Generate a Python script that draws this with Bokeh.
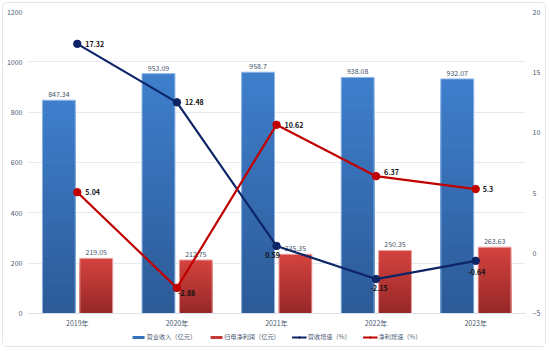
from bokeh.plotting import figure
from bokeh.models import (ColumnDataSource, Range1d, LinearAxis, FactorRange,
                          Legend, LegendItem, FixedTicker)
from bokeh.transform import dodge
from bokeh.core.properties import value
from bokeh.embed import file_html
from bokeh.resources import INLINE

years = ["2019年", "2020年", "2021年", "2022年", "2023年"]
revenue = [847.34, 953.09, 958.7, 938.08, 932.07]
net_profit = [219.05, 212.75, 235.35, 250.35, 263.63]
rev_growth = [17.32, 12.48, 0.59, -2.15, -0.64]
np_growth = [5.04, -2.88, 10.62, 6.37, 5.3]

FONT = "Noto Sans CJK SC"

# page: frame spans 11..347 px; value 0 sits at 313 px, 1200 at 11 px
p = figure(x_range=FactorRange(*years, range_padding=0), y_range=Range1d(-135.1, 1200),
           width=544, height=345, output_backend="svg", toolbar_location=None,
           min_border_left=20, min_border_right=22, min_border_top=8, min_border_bottom=1)
p.styles = {"margin": "2px", "border": "1px solid #dfe6ef", "border-radius": "4px"}
p.extra_y_ranges = {"pct": Range1d(-7.815, 20)}
p.outline_line_color = None
p.background_fill_color = "white"
p.border_fill_color = "white"

# gradient bars: overlapping slices from the baseline, built from each bar's value
N = 30
def hexmix(c1, c2, t):
    a = [int(c1[i:i + 2], 16) for i in (1, 3, 5)]
    b = [int(c2[i:i + 2], 16) for i in (1, 3, 5)]
    return "#%02x%02x%02x" % tuple(int(round(a[k] + (b[k] - a[k]) * t)) for k in range(3))

def gradient_source(vals, c_bottom, c_top):
    xs, tops, cols = [], [], []
    for k in range(N, 0, -1):
        for yr, v in zip(years, vals):
            xs.append(yr)
            tops.append(v * k / N)
            cols.append(hexmix(c_bottom, c_top, (k - 0.5) / N))
    return ColumnDataSource(dict(x=xs, top=tops, color=cols))

BW = 0.33
OFF_B, OFF_R = -0.185, 0.19
src = ColumnDataSource(dict(x=years, revenue=revenue, net_profit=net_profit,
                            rev_growth=rev_growth, np_growth=np_growth,
                            rev_lbl=[str(v) for v in revenue],
                            np_lbl=[str(v) for v in net_profit],
                            rg_lbl=[str(v) for v in rev_growth],
                            ng_lbl=[str(v) for v in np_growth]))

gb = gradient_source(revenue, "#2c5a97", "#3f7fcc")
gr = gradient_source(net_profit, "#962828", "#d4433f")
p.vbar(x=dodge("x", OFF_B, range=p.x_range), top="top", width=BW,
       fill_color="color", line_color=None, source=gb)
p.vbar(x=dodge("x", OFF_R, range=p.x_range), top="top", width=BW,
       fill_color="color", line_color=None, source=gr)
p.vbar(x=dodge("x", OFF_B, range=p.x_range), top="revenue", width=BW,
       fill_color=None, line_color="#8fb6e6", line_width=1, source=src)
p.vbar(x=dodge("x", OFF_R, range=p.x_range), top="net_profit", width=BW,
       fill_color=None, line_color="#eda5a2", line_width=1, source=src)

# legend swatches (solid colors, no visible marks in the plot)
lb = p.vbar(x=dodge("x", OFF_B, range=p.x_range), top=0, width=0, fill_color="#3670b8",
            line_color=None, source=src)
lr = p.vbar(x=dodge("x", OFF_R, range=p.x_range), top=0, width=0, fill_color="#c43a36",
            line_color=None, source=src)

# bar value labels
p.text(x=dodge("x", OFF_B, range=p.x_range), y="revenue", text="rev_lbl", source=src,
       text_align="center", text_baseline="bottom", y_offset=-3,
       text_font=value(FONT), text_font_size="7px", text_color="#44546a")
p.text(x=dodge("x", OFF_R, range=p.x_range), y="net_profit", text="np_lbl", source=src,
       text_align="center", text_baseline="bottom", y_offset=-3,
       text_font=value(FONT), text_font_size="7px", text_color="#44546a")

# growth lines
l1 = p.line(x="x", y="rev_growth", source=src, y_range_name="pct", line_color="#0d2466", line_width=2.2)
s1 = p.scatter(x="x", y="rev_growth", source=src, y_range_name="pct", size=7.5,
               fill_color="#0d2466", line_color="#0d2466")
l2 = p.line(x="x", y="np_growth", source=src, y_range_name="pct", line_color="#c00000", line_width=2.2)
s2 = p.scatter(x="x", y="np_growth", source=src, y_range_name="pct", size=7.5,
               fill_color="#c00000", line_color="#c00000")

rg_dx = [8, 8, -4, 3, 1]
rg_dy = [0, 0, 9, 9, 11]
rg_al = ["left", "left", "center", "center", "center"]
ng_dx = [8, 1, 8, 8, 7]
ng_dy = [0, 5, 0, -4, 0]
src.data["rg_dx"] = rg_dx
src.data["rg_dy"] = rg_dy
src.data["rg_al"] = rg_al
src.data["ng_dx"] = ng_dx
src.data["ng_dy"] = ng_dy
p.text(x="x", y="rev_growth", text="rg_lbl", source=src, y_range_name="pct",
       x_offset="rg_dx", y_offset="rg_dy", text_align="rg_al", text_baseline="middle",
       text_font=value(FONT), text_font_size="7px", text_font_style="bold", text_color="#111111")
p.text(x="x", y="np_growth", text="ng_lbl", source=src, y_range_name="pct",
       x_offset="ng_dx", y_offset="ng_dy", text_align="left", text_baseline="middle",
       text_font=value(FONT), text_font_size="7px", text_font_style="bold", text_color="#111111")

# axes
p.yaxis.ticker = FixedTicker(ticks=[0, 200, 400, 600, 800, 1000, 1200])
p.yaxis.axis_line_color = None
p.yaxis.major_tick_line_color = None
p.yaxis.minor_tick_line_color = None
p.yaxis.major_tick_out = 0
p.yaxis.major_tick_in = 0
p.yaxis.major_label_standoff = 5
ax2 = LinearAxis(y_range_name="pct", ticker=FixedTicker(ticks=[-5, 0, 5, 10, 15, 20]))
ax2.axis_line_color = None
ax2.major_tick_line_color = None
ax2.minor_tick_line_color = None
ax2.major_tick_out = 0
ax2.major_tick_in = 0
ax2.major_label_standoff = 7
p.add_layout(ax2, "right")
for ax in (p.yaxis[0], ax2, p.xaxis[0]):
    ax.major_label_text_font = FONT
    ax.major_label_text_font_size = "7px"
    ax.major_label_text_color = "#4a5a72"
p.xaxis.fixed_location = 0
p.xaxis.axis_line_color = "#d9e1ec"
p.xaxis.major_tick_line_color = None
p.xaxis.major_tick_out = 0
p.xaxis.major_tick_in = 0
p.xaxis.major_label_standoff = 5
p.xgrid.grid_line_color = None
p.ygrid.grid_line_color = "#e3eaf3"

legend = Legend(items=[
    LegendItem(label="营业收入（亿元）", renderers=[lb]),
    LegendItem(label="归母净利润（亿元）", renderers=[lr]),
    LegendItem(label="营收增速（%）", renderers=[l1, s1]),
    LegendItem(label="净利增速（%）", renderers=[l2, s2]),
], orientation="horizontal", location="bottom_center")
legend.label_text_font = FONT
legend.label_text_font_size = "6.2px"
legend.label_text_color = "#4a5a72"
legend.glyph_width = 15
legend.glyph_height = 4
legend.label_standoff = 1
legend.spacing = 12
legend.padding = 0
legend.margin = 6
legend.border_line_color = None
legend.background_fill_alpha = 0
p.add_layout(legend, "center")

open("out.html", "w").write(file_html(p, INLINE))
